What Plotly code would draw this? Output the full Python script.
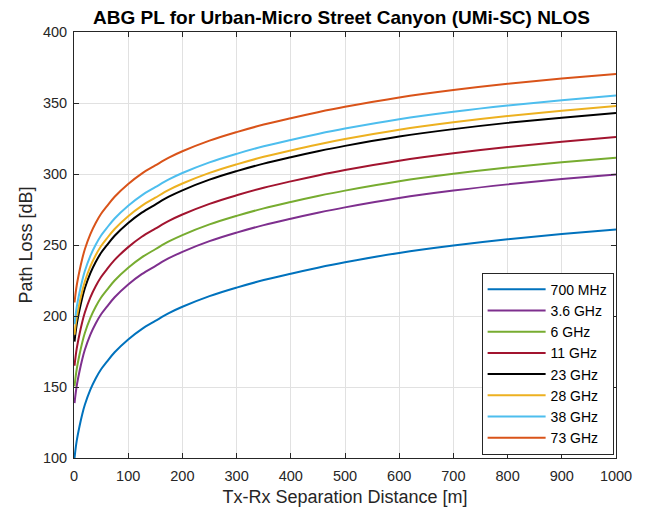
import plotly.graph_objects as go

# Tx-Rx separation distance [m]
distance_m = [1, 2, 5, 10, 15, 20, 30, 40, 50, 60, 75, 100, 125, 150, 175, 200,
              250, 300, 350, 400, 450, 500, 600, 700, 800, 900, 1000]

# Path loss [dB] for each carrier frequency
pl_700mhz = [100, 103.5, 112, 122, 130.5, 137.5, 148, 156, 162.5, 167.5, 174.5, 183.5,
             190.8, 196.5, 202, 206.5, 214, 220, 225.3, 229.8, 234, 237.8, 244.4,
             249.6, 254, 257.7, 261]
pl_3p6ghz = [138.7, 142.2, 150.7, 160.7, 169.2, 176.2, 186.7, 194.7, 201.2, 206.2, 213.2,
             222.2, 229.5, 235.2, 240.7, 245.2, 252.7, 258.7, 264, 268.5, 272.7, 276.5,
             283.1, 288.3, 292.7, 296.4, 299.7]
pl_6ghz = [150.5, 154, 162.5, 172.5, 181, 188, 198.5, 206.5, 213, 218, 225, 234, 241.3,
           247, 252.5, 257, 264.5, 270.5, 275.8, 280.3, 284.5, 288.3, 294.9, 300.1,
           304.5, 308.2, 311.5]
pl_11ghz = [165, 168.5, 177, 187, 195.5, 202.5, 213, 221, 227.5, 232.5, 239.5, 248.5,
            255.8, 261.5, 267, 271.5, 279, 285, 290.3, 294.8, 299, 302.8, 309.4, 314.6,
            319, 322.7, 326]
pl_23ghz = [182, 185.5, 194, 204, 212.5, 219.5, 230, 238, 244.5, 249.5, 256.5, 265.5,
            272.8, 278.5, 284, 288.5, 296, 302, 307.3, 311.8, 316, 319.8, 326.4, 331.6,
            336, 339.7, 343]
pl_28ghz = [186.8, 190.3, 198.8, 208.8, 217.3, 224.3, 234.8, 242.8, 249.3, 254.3, 261.3,
            270.3, 277.6, 283.3, 288.8, 293.3, 300.8, 306.8, 312.1, 316.6, 320.8, 324.6,
            331.2, 336.4, 340.8, 344.5, 347.8]
pl_38ghz = [194.2, 197.7, 206.2, 216.2, 224.7, 231.7, 242.2, 250.2, 256.7, 261.7, 268.7,
            277.7, 285, 290.7, 296.2, 300.7, 308.2, 314.2, 319.5, 324, 328.2, 332,
            338.6, 343.8, 348.2, 351.9, 355.2]
pl_73ghz = [209.5, 213, 221.5, 231.5, 240, 247, 257.5, 265.5, 272, 277, 284, 293, 300.3,
            306, 311.5, 316, 323.5, 329.5, 334.8, 339.3, 343.5, 347.3, 353.9, 359.1,
            363.5, 367.2, 370.5]

labels = ["700 MHz", "3.6 GHz", "6 GHz", "11 GHz", "23 GHz", "28 GHz", "38 GHz", "73 GHz"]
series = [pl_700mhz, pl_3p6ghz, pl_6ghz, pl_11ghz, pl_23ghz, pl_28ghz, pl_38ghz, pl_73ghz]
colors = ["#0072BD", "#7E2F8E", "#77AC30", "#A2142F", "#000000", "#EDB120", "#4DBEEE", "#D95319"]

FONT = "Liberation Sans, Arial, Helvetica, sans-serif"
AX = "#262626"

fig = go.Figure()
for name, ys, c in zip(labels, series, colors):
    fig.add_trace(go.Scatter(
        x=distance_m, y=ys, mode="lines", name=name,
        line=dict(color=c, width=2, shape="spline", smoothing=1.0),
    ))

axis_common = dict(
    showline=True, linecolor=AX, linewidth=1, mirror="ticks",
    ticks="inside", ticklen=5, tickcolor=AX, tickwidth=1,
    showgrid=True, gridcolor="#e1e1e1", gridwidth=1,
    zeroline=False, tickfont=dict(family=FONT, size=14.5, color=AX),
)

fig.update_xaxes(range=[0, 1000], dtick=100, tick0=0, ticklabelstandoff=5,
                 title=dict(text="Tx-Rx Separation Distance [m]",
                            font=dict(family=FONT, size=18, color=AX), standoff=6),
                 **axis_common)
fig.update_yaxes(range=[100, 400], dtick=50, tick0=100, ticklabelstandoff=3,
                 title=dict(text="Path Loss [dB]",
                            font=dict(family=FONT, size=18, color=AX), standoff=5),
                 **axis_common)

fig.update_layout(
    width=655, height=515,
    margin=dict(l=74, r=39, t=32, b=57),
    paper_bgcolor="white", plot_bgcolor="white",
    title=dict(text="<b>ABG PL for Urban-Micro Street Canyon (UMi-SC) NLOS</b>",
               x=341.5 / 655, xanchor="center", y=1 - 17 / 515, yanchor="middle",
               font=dict(family=FONT, size=19, color="#000000")),
    legend=dict(x=0.9956, y=0.0077, xanchor="right", yanchor="bottom",
                bgcolor="white", bordercolor=AX, borderwidth=1,
                font=dict(family=FONT, size=14, color="#000000"),
                itemwidth=58, tracegroupgap=0),
    showlegend=True,
)

fig.write_html("out.html")
